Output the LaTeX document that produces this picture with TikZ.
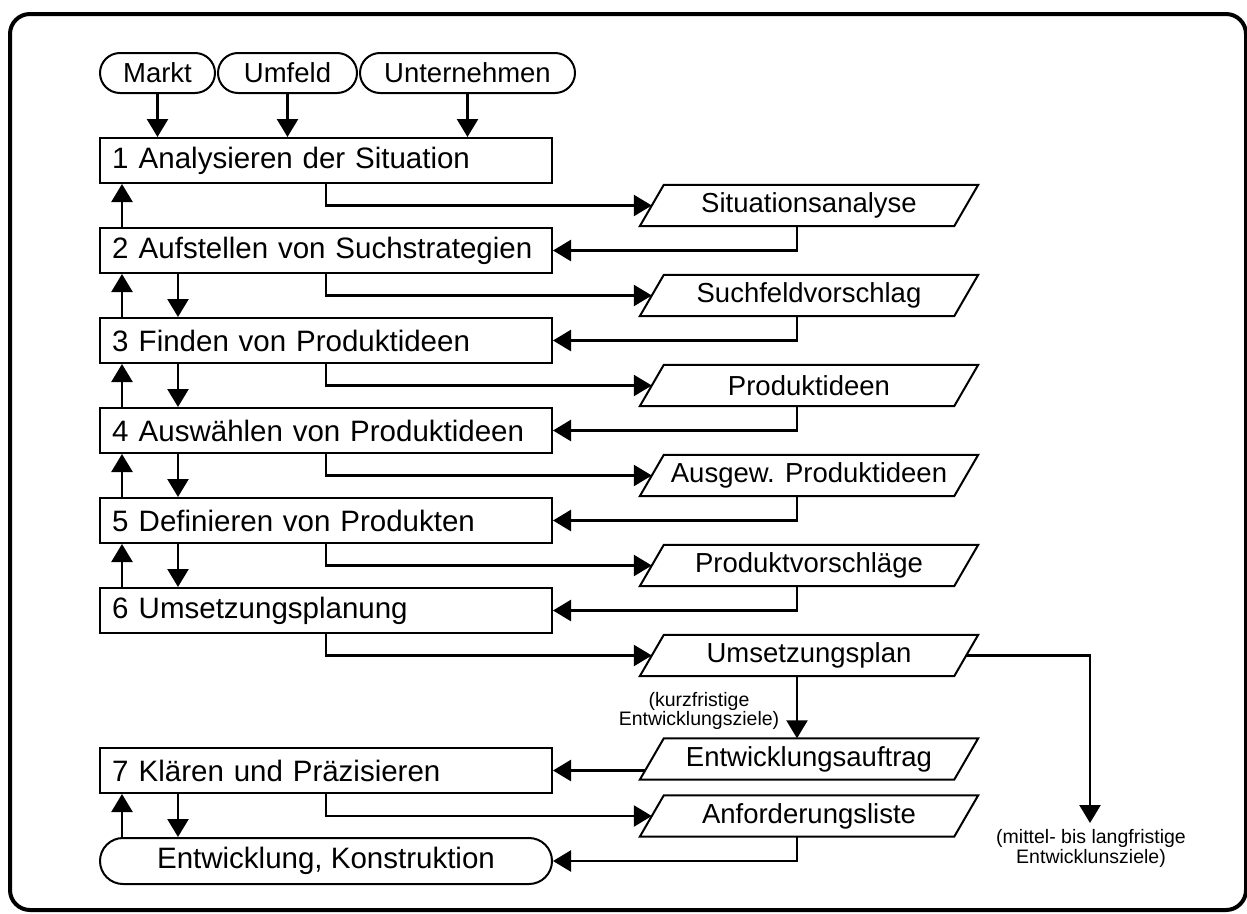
\documentclass[tikz,border=0pt]{standalone}
\usepackage{fontspec}
\setmainfont{Liberation Sans}
\usetikzlibrary{arrows.meta,calc}

\begin{document}
\begin{tikzpicture}[x=1pt,y=-1pt,
  stepbox/.style={draw, line width=2pt, rectangle, minimum height=45pt,
    text width=428pt, inner xsep=12pt, inner ysep=0pt, align=left,
    font=\fontsize{29.5}{34}\selectfont},
  source/.style={draw, line width=2pt, rectangle, rounded corners=20pt,
    minimum height=40pt, inner sep=0pt, font=\fontsize{27.5}{32}\selectfont},
  target/.style={draw, line width=2pt, rectangle, rounded corners=23pt,
    minimum width=452pt, minimum height=46pt, inner sep=0pt,
    font=\fontsize{29.5}{34}\selectfont},
  result/.style={rectangle, minimum width=314pt, minimum height=41pt,
    inner sep=0pt, font=\fontsize{27.5}{32}\selectfont},
  note/.style={align=center, inner sep=0pt, font=\fontsize{19.5}{17.5}\selectfont},
  flow/.style={line width=2.5pt, -{Triangle[length=18pt,width=21pt]}}]
\useasboundingbox (0,0) rectangle (1247,913);

% outer frame
\draw[line width=4pt, rounded corners=20pt] (10,14) rectangle (1246,910);

% inputs
\node[source, minimum width=115pt] (markt) at (157.5,73) {Markt};
\node[source, minimum width=139pt] (umfeld) at (287.5,73) {Umfeld};
\node[source, minimum width=215pt] (unt) at (467.5,73) {Unternehmen};

% process steps
\node[stepbox] (b1) at (326,160.5) {1\hspace{0.35em}Analysieren der Situation};
\node[stepbox] (b2) at (326,250.5) {2\hspace{0.35em}Aufstellen von Suchstrategien};
\node[stepbox] (b3) at (326,340.5) {3\hspace{0.35em}Finden von Produktideen};
\node[stepbox] (b4) at (326,430.5) {4\hspace{0.35em}Auswählen von Produktideen};
\node[stepbox] (b5) at (326,520.5) {5\hspace{0.35em}Definieren von Produkten};
\node[stepbox] (b6) at (326,610.5) {6\hspace{0.35em}Umsetzungsplanung};
\node[stepbox] (b7) at (326,770.5) {7\hspace{0.35em}Klären und Präzisieren};
\node[target] (ek) at (326,861) {Entwicklung, Konstruktion};

% results
\node[result] (r1) at (809,205.5) {Situationsanalyse};
\node[result] (r2) at (809,295.5) {Suchfeldvorschlag};
\node[result] (r3) at (809,385.5) {Produktideen};
\node[result] (r4) at (809,475.5) {Ausgew. Produktideen};
\node[result] (r5) at (809,565.5) {Produktvorschläge};
\node[result] (r6) at (809,655.5) {Umsetzungsplan};
\node[result] (ea) at (809,759) {Entwicklungsauftrag};
\node[result] (al) at (809,816) {Anforderungsliste};
\foreach \n in {r1,r2,r3,r4,r5,r6,ea,al}
  \draw[line width=2pt] ([xshift=-12pt]\n.south west) -- ([xshift=12pt]\n.north west)
    -- ([xshift=12pt]\n.north east) -- ([xshift=-12pt]\n.south east) -- cycle;

% inputs into step 1
\draw[flow] (markt) -- (markt |- b1.north);
\draw[flow] (umfeld) -- (umfeld |- b1.north);
\draw[flow] (unt) -- (unt |- b1.north);

% step -> result -> next step
\foreach \a/\r/\b in {b1/r1/b2,b2/r2/b3,b3/r3/b4,b4/r4/b5,b5/r5/b6} {
  \draw[flow] (\a.south) |- (\r.west);
  \draw[flow] ([xshift=-12pt]\r.south) |- (\b.east);
}
\draw[flow] (b6.south) |- (r6.west);
\draw[flow] (b7.south) |- (al.west);
\draw[flow] ([xshift=-12pt]al.south) |- (ek.east);

% feedback (up) and forward (down) between steps
\foreach \a/\b in {b1/b2,b2/b3,b3/b4,b4/b5,b5/b6,b7/ek}
  \draw[flow] ([xshift=-204pt]\b.north) -- ([xshift=-204pt]\a.south);
\foreach \a/\b in {b2/b3,b3/b4,b4/b5,b5/b6,b7/ek}
  \draw[flow] ([xshift=-148pt]\a.south) -- ([xshift=-148pt]\b.north);

% short-term branch
\draw[flow] ([xshift=-12pt]r6.south) -- ([xshift=-12pt]ea.north);
\node[note] (kz) at (699,711) {(kurzfristige\\Entwicklungsziele)};
\coordinate (eaL) at ($(ea.south west |- b7.east)+(-7,0)$);
\draw[flow] (eaL) -- (b7.east);

% medium- to long-term branch
\coordinate (lz) at (1090,823);
\draw[flow] (r6.east) -| (lz);
\node[note] (lzt) at (1091,848.5) {(mittel- bis langfristige\\Entwicklunsziele)};
\end{tikzpicture}
\end{document}
